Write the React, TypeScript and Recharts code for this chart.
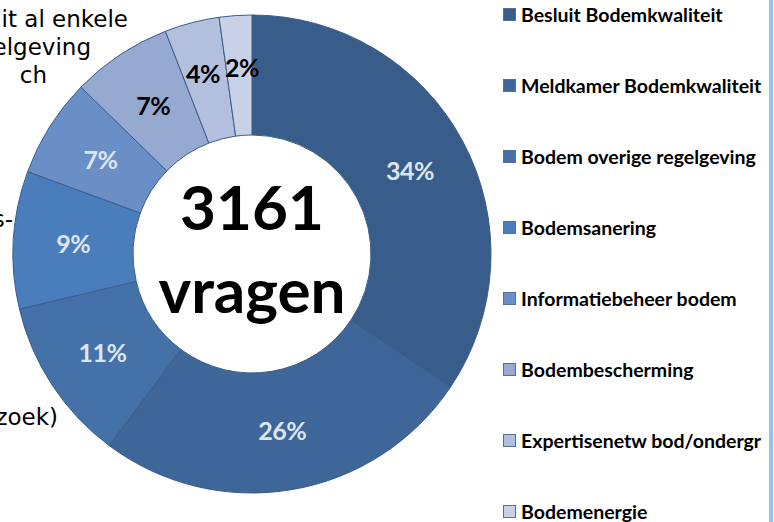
import React from "react";
import { PieChart, Pie, Cell, Legend } from "recharts";

// categories + share of questions (percent)
const categories = [
  "Besluit Bodemkwaliteit",
  "Meldkamer Bodemkwaliteit",
  "Bodem overige regelgeving",
  "Bodemsanering",
  "Informatiebeheer bodem",
  "Bodembescherming",
  "Expertisenetw bod/ondergr",
  "Bodemenergie",
];
const shares = [34.4, 25.8, 11.1, 9.3, 6.7, 6.8, 3.7, 2.2];
const colors = ["#395d8a", "#3e6698", "#4471a8", "#4a7dbb", "#6a8fc6", "#95a9d1", "#b3c0dd", "#c9d1e6"];
const labelColors = ["#dde5f1", "#dde5f1", "#dde5f1", "#dde5f1", "#dde5f1", "#000", "#000", "#000"];

const totalLines = ["3161", "vragen"];

// fragments of text that fall off the left side of the slide
const cutLines = [
  { text: "it al enkele", x: 128, y: 27 },
  { text: "regelgeving", x: 91, y: 55 },
  { text: "ch", x: 47, y: 83 },
  { text: "s-", x: 13, y: 227 },
  { text: "onderzoek)", x: 58, y: 425 },
];

const data = categories.map((name, i) => ({ name, value: shares[i] }));

const RAD = Math.PI / 180;

function renderLabel(props: any) {
  const { cx, cy, midAngle, innerRadius, outerRadius, percent, index } = props;
  const r = (innerRadius + outerRadius) / 2 + (index >= 6 ? 8 : 0);
  const x = cx + r * Math.cos(-midAngle * RAD) + (index === 7 ? 3 : index === 6 ? -2 : 0);
  const y = cy + r * Math.sin(-midAngle * RAD);
  return (
    <text
      x={x}
      y={y}
      fill={labelColors[index]}
      textAnchor="middle"
      dominantBaseline="central"
      letterSpacing={-0.5}
      style={{ fontFamily: "Lato, sans-serif", fontWeight: 700, fontSize: 25 }}
    >
      {Math.round(percent * 100)}%
    </text>
  );
}

function LegendList() {
  return (
    <div style={{ fontFamily: "Lato, sans-serif", fontWeight: 700, fontSize: 19.5, color: "#000" }}>
      {categories.map((name, i) => (
        <div key={name} style={{ display: "flex", alignItems: "center", height: 71, whiteSpace: "nowrap" }}>
          <span
            style={{
              display: "inline-block",
              width: 11,
              height: 11,
              background: colors[i],
              border: "1px solid #5a6f90",
              marginRight: 5,
            }}
          />
          {name}
        </div>
      ))}
    </div>
  );
}

export default function App() {
  return (
    <div style={{ position: "absolute", left: 0, top: 0, width: 774, height: 522, overflow: "hidden", background: "#fff" }}>
      <PieChart width={774} height={522} margin={{ top: 0, right: 0, bottom: 0, left: 0 }}>
        <Pie
          data={data}
          dataKey="value"
          nameKey="name"
          cx={252}
          cy={254}
          innerRadius={119}
          outerRadius={239}
          startAngle={90}
          endAngle={-270}
          stroke="#3b5d89"
          strokeWidth={1}
          label={renderLabel}
          labelLine={false}
          isAnimationActive={false}
        >
          {data.map((d, i) => (
            <Cell key={d.name} fill={colors[i]} />
          ))}
        </Pie>
        <Legend
          layout="vertical"
          align="right"
          verticalAlign="top"
          content={<LegendList />}
          wrapperStyle={{ left: 503, top: -21, width: 300 }}
        />
      </PieChart>
      <svg width={774} height={522} style={{ position: "absolute", left: 0, top: 0, pointerEvents: "none" }}>
        <text x={252} y={230} textAnchor="middle" style={{ fontFamily: "Lato, sans-serif", fontWeight: 700, fontSize: 62 }}>
          {totalLines[0]}
        </text>
        <text x={252} y={313} textAnchor="middle" style={{ fontFamily: "Lato, sans-serif", fontWeight: 700, fontSize: 62 }}>
          {totalLines[1]}
        </text>
        {cutLines.map((c) => (
          <text
            key={c.text}
            x={c.x}
            y={c.y}
            textAnchor="end"
            style={{ fontFamily: "DejaVu Sans, sans-serif", fontSize: 23, fill: "#000" }}
          >
            {c.text}
          </text>
        ))}
        <rect x={769} y={0} width={4} height={522} fill="#8ec8e6" />
      </svg>
    </div>
  );
}
